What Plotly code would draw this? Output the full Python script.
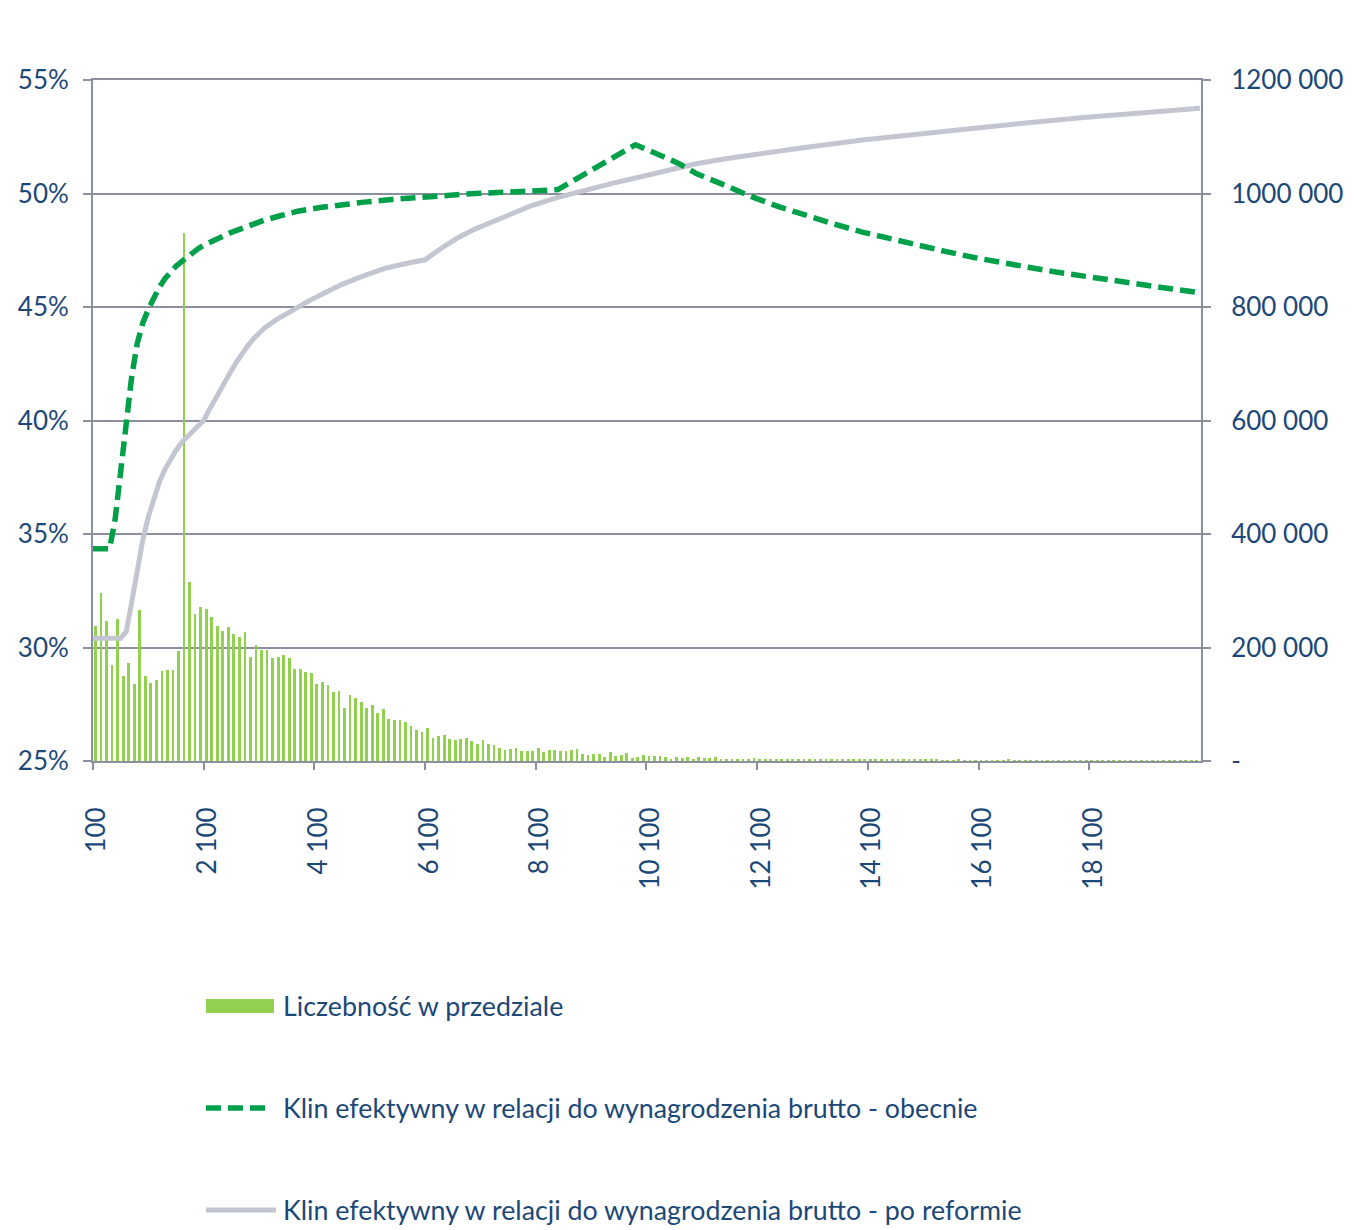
import plotly.graph_objects as go

# Income brackets (PLN, step 100) and number of people in each bracket
categories = list(range(100, 20001, 100))
bar_counts = [
    238000, 295500, 247000, 169000, 250000, 150000, 172000, 136000, 266000, 149000,
    138000, 143000, 158600, 160000, 160000, 194400, 930000, 315000, 259600, 271400,
    268000, 253800, 238000, 229000, 236000, 224000, 218000, 227000, 183800, 205000,
    195600, 195600, 181000, 184000, 186800, 181000, 161600, 161600, 157000, 154500,
    135700, 139000, 134000, 121000, 122800, 94000, 116300, 111000, 104500, 93400,
    98000, 84600, 91000, 74600, 72300, 72600, 68700, 61700, 54600, 50500,
    58000, 40000, 44000, 45300, 38500, 37300, 38100, 40500, 35200, 30000,
    37600, 29400, 28800, 22300, 18800, 21700, 22900, 18200, 17000, 17000,
    22900, 15900, 18800, 18800, 18200, 17000, 19400, 20600, 12300, 11200,
    11700, 12900, 7000, 15900, 8800, 10600, 14100, 5300, 7000, 10000,
    8200, 8200, 8200, 6500, 3500, 6500, 4700, 7600, 4100, 6500,
    5300, 5000, 6500, 4100, 2400, 4100, 3000, 3500, 3500, 4700,
    3000, 2900, 3200, 3200, 3500, 3800, 2400, 3500, 2900, 3800,
    2400, 2400, 4100, 2400, 2900, 2400, 3500, 3200, 3200, 2900,
    2400, 2400, 3800, 2000, 2000, 2900, 2400, 2900, 2900, 2000,
    1800, 1800, 1800, 1500, 1500, 1500, 1800, 1500, 1200, 1500,
    1500, 1500, 1200, 1000, 1200, 1800, 1500, 1200, 1500, 1200,
    1000, 1200, 1000, 1000, 900, 1000, 800, 900, 800, 700,
    800, 700, 700, 600, 700, 600, 600, 500, 600, 500,
    500, 500, 400, 500, 400, 400, 400, 300, 300, 300,
]

# Effective tax wedge relative to gross pay - current system (%)
current_x = [100, 400, 500, 600, 700, 800, 900, 1000, 1100, 1200, 1300, 1400, 1500,
             1600, 1700, 1800, 1900, 2000, 2100, 2200, 2400, 2600, 2800, 3000, 3200,
             3500, 3800, 4200, 4600, 5000, 5500, 6000, 6500, 7000, 7500, 8000, 8500,
             9900, 10100, 10400, 10700, 11000, 11500, 12000, 12500, 13000, 13500,
             14000, 14500, 15000, 15500, 16000, 16500, 17000, 17500, 18000, 18500,
             19000, 19500, 20100]
current_y = [34.35, 34.35, 35.65, 37.85, 40.1, 41.95, 43.4, 44.3, 44.9, 45.4, 45.88, 46.25, 46.55,
             46.8, 47.0, 47.2, 47.4, 47.57, 47.72, 47.82, 48.06, 48.29, 48.47, 48.68, 48.83,
             49.03, 49.22, 49.38, 49.52, 49.62, 49.74, 49.84, 49.92, 50.0, 50.05, 50.1, 50.17,
             52.15, 51.92, 51.63, 51.3, 50.88, 50.38, 49.86, 49.41, 49.0, 48.65,
             48.3, 48.0, 47.72, 47.45, 47.19, 46.95, 46.75, 46.54, 46.35, 46.17,
             46.0, 45.83, 45.63]

# Effective tax wedge relative to gross pay - after the reform (%)
reform_x = [100, 600, 700, 750, 800, 850, 900, 1000, 1100, 1200, 1300, 1400, 1500, 1600,
            1700, 1800, 1900, 2000, 2100, 2200, 2300, 2400, 2500, 2600, 2700, 2800, 2900,
            3000, 3200, 3400, 3600, 3800, 4000, 4300, 4600, 5000, 5400, 5800, 6100, 6400,
            6700, 7000, 7500, 8000, 8500, 9000, 9500, 10000, 10500, 11000, 11500, 12000,
            13000, 14000, 15000, 16000, 17000, 18000, 19000, 20100]
reform_y = [30.41, 30.41, 30.7, 31.25, 32.0, 32.7, 33.45, 34.75, 35.75, 36.55, 37.3, 37.85, 38.3, 38.68,
            39.03, 39.28, 39.51, 39.75, 40.0, 40.47, 40.93, 41.36, 41.78, 42.2, 42.6, 42.97, 43.3,
            43.6, 44.08, 44.42, 44.72, 45.0, 45.27, 45.64, 46.0, 46.38, 46.72, 46.94, 47.08, 47.6,
            48.06, 48.43, 48.95, 49.44, 49.83, 50.17, 50.46, 50.74, 51.05, 51.31, 51.52, 51.7,
            52.04, 52.36, 52.63, 52.88, 53.12, 53.35, 53.55, 53.76]

x_tick_vals = list(range(100, 18101, 2000))
x_tick_text = ["100", "2 100", "4 100", "6 100", "8 100", "10 100", "12 100", "14 100", "16 100", "18 100"]
pct_ticks = [25, 30, 35, 40, 45, 50, 55]
pct_tick_text = [f"{v}%" for v in pct_ticks]
count_ticks = [0, 200000, 400000, 600000, 800000, 1000000, 1200000]
count_tick_text = ["-", "200 000", "400 000", "600 000", "800 000", "1000 000", "1200 000"]

legend_labels = [
    "Liczebność w przedziale",
    "Klin efektywny w relacji do wynagrodzenia brutto - obecnie",
    "Klin efektywny w relacji do wynagrodzenia brutto - po reformie",
]

BAR_GREEN = "#92d050"
DASH_GREEN = "#00a04a"
REFORM_GREY = "#c3c6d0"
AXIS_GREY = "#8c8fa0"
TEXT_BLUE = "#1c4878"
FONT = "Lato"

W, H = 1354, 1230
M_L, M_R, M_T, M_B = 93, 153, 80, 469

fig = go.Figure()

fig.add_trace(go.Bar(
    x=categories, y=bar_counts, yaxis="y",
    width=50, offset=20,
    marker=dict(color=BAR_GREEN, line=dict(width=0)),
    name=legend_labels[0], showlegend=False,
))
fig.add_trace(go.Scatter(
    x=reform_x, y=reform_y, yaxis="y2", mode="lines",
    line=dict(color=REFORM_GREY, width=5),
    name=legend_labels[2], showlegend=False,
))
fig.add_trace(go.Scatter(
    x=current_x, y=current_y, yaxis="y2", mode="lines",
    line=dict(color=DASH_GREEN, width=5.5, dash="15px,7px"),
    name=legend_labels[1], showlegend=False,
))

tick_font = dict(family=FONT, size=26, color=TEXT_BLUE)

fig.update_layout(
    width=W, height=H,
    margin=dict(l=M_L, r=M_R, t=M_T, b=M_B, pad=0, autoexpand=False),
    paper_bgcolor="white", plot_bgcolor="white",
    showlegend=False,
    bargap=0,
    xaxis=dict(
        type="linear", range=[100, 20120], automargin=False,
        tickmode="array", tickvals=x_tick_vals, ticktext=x_tick_text,
        tickangle=-90, tickfont=tick_font,
        ticks="outside", ticklen=7, tickwidth=2, tickcolor=AXIS_GREY,
        ticklabelstandoff=27, ticklabelshift=4,
        showline=True, linecolor=AXIS_GREY, linewidth=2, mirror=True,
        showgrid=False, zeroline=False,
    ),
    yaxis=dict(
        side="right", range=[0, 1200000], automargin=False,
        tickmode="array", tickvals=count_ticks, ticktext=count_tick_text,
        tickfont=tick_font,
        ticks="outside", ticklen=8, tickwidth=2, tickcolor=AXIS_GREY,
        ticklabelstandoff=15,
        showline=True, linecolor=AXIS_GREY, linewidth=2,
        showgrid=False, zeroline=False,
    ),
    yaxis2=dict(
        side="left", overlaying="y", range=[25, 55], automargin=False,
        tickmode="array", tickvals=pct_ticks, ticktext=pct_tick_text,
        tickfont=tick_font,
        ticks="outside", ticklen=8, tickwidth=2, tickcolor=AXIS_GREY,
        ticklabelstandoff=9,
        showline=True, linecolor=AXIS_GREY, linewidth=2,
        showgrid=True, gridcolor=AXIS_GREY, gridwidth=1.6,
        zeroline=False,
    ),
)

# Legend below the chart, drawn in pixel positions converted to paper units
plot_w = W - M_L - M_R
plot_h = H - M_T - M_B


def px_x(px):
    return (px - M_L) / plot_w


def px_y(py):
    return (H - M_B - py) / plot_h


legend_rows = [1006, 1108, 1210]
sym_x0, sym_x1, text_x = 206, 274, 281

fig.add_shape(type="rect", xref="paper", yref="paper",
              x0=px_x(sym_x0), x1=px_x(sym_x1),
              y0=px_y(legend_rows[0] + 7), y1=px_y(legend_rows[0] - 7),
              fillcolor=BAR_GREEN, line=dict(width=0))
fig.add_shape(type="line", xref="paper", yref="paper",
              x0=px_x(sym_x0), x1=px_x(sym_x1 - 6),
              y0=px_y(legend_rows[1]), y1=px_y(legend_rows[1]),
              line=dict(color=DASH_GREEN, width=5.5, dash="15px,7px"))
fig.add_shape(type="line", xref="paper", yref="paper",
              x0=px_x(sym_x0), x1=px_x(sym_x1 + 2),
              y0=px_y(legend_rows[2]), y1=px_y(legend_rows[2]),
              line=dict(color=REFORM_GREY, width=5))

for label, row in zip(legend_labels, legend_rows):
    fig.add_annotation(
        text=label, xref="paper", yref="paper",
        x=px_x(text_x), y=px_y(row),
        xanchor="left", yanchor="middle", showarrow=False,
        font=dict(family=FONT, size=26.8, color=TEXT_BLUE),
    )

fig.write_html("out.html")
